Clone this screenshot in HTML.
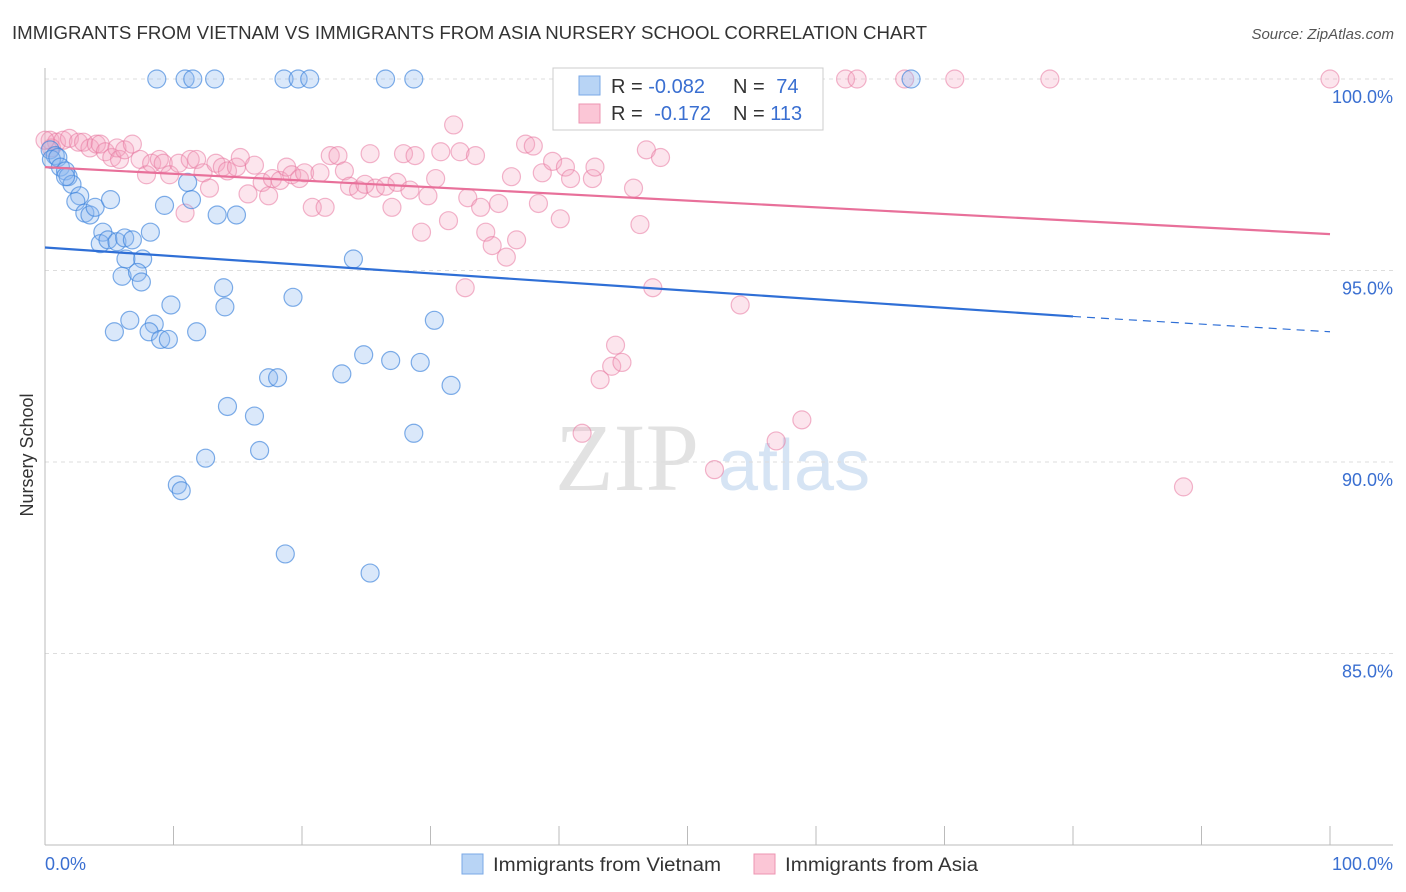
<!DOCTYPE html>
<html><head><meta charset="utf-8"><style>
body{margin:0;background:#fff;font-family:"Liberation Sans",sans-serif;}
svg{display:block}
</style></head><body>
<svg id="c" width="1406" height="892" xmlns="http://www.w3.org/2000/svg">
<text x="12" y="39" font-size="18.5" fill="#333" textLength="915" lengthAdjust="spacingAndGlyphs">IMMIGRANTS FROM VIETNAM VS IMMIGRANTS FROM ASIA NURSERY SCHOOL CORRELATION CHART</text>
<text x="1394" y="39" font-size="15" fill="#555" font-style="italic" text-anchor="end">Source: ZipAtlas.com</text>
<text x="33" y="455" font-size="18" fill="#333" transform="rotate(-90 33 455)" text-anchor="middle">Nursery School</text>
<g><text x="555" y="490" font-family="Liberation Serif,serif" font-size="96" fill="#e2e2e2">ZIP</text><text x="718" y="490" font-size="72" fill="#d6e4f4">atlas</text></g>
<g id="grid"></g><g id="axes"></g><g id="pts"></g><g id="trend"></g>
<g>
<rect x="553" y="68" width="270" height="62" fill="#fff" stroke="#ccc"/>
<rect x="579" y="76" width="21" height="19" fill="#b8d4f5" stroke="#7aa8e6"/>
<rect x="579" y="104" width="21" height="19" fill="#fbc6d6" stroke="#ee94b2"/>
<text x="611" y="93" font-size="20" fill="#333">R = <tspan fill="#3a6fd1">-0.082</tspan></text><text x="733" y="93" font-size="20" fill="#333">N = <tspan dx="6" fill="#3a6fd1">74</tspan></text>
<text x="611" y="120" font-size="20" fill="#333">R = <tspan dx="6" fill="#3a6fd1">-0.172</tspan></text><text x="733" y="120" font-size="20" fill="#333">N = <tspan fill="#3a6fd1">113</tspan></text>
</g>
<g>
<rect x="462" y="854" width="21" height="20" fill="#b8d4f5" stroke="#7aa8e6"/>
<text x="493" y="871" font-size="19" fill="#333" textLength="228" lengthAdjust="spacingAndGlyphs">Immigrants from Vietnam</text>
<rect x="754" y="854" width="21" height="20" fill="#fbc6d6" stroke="#ee94b2"/>
<text x="785" y="871" font-size="19" fill="#333" textLength="193" lengthAdjust="spacingAndGlyphs">Immigrants from Asia</text>
</g>
</svg>
<script>
const yTicks=[100,95,90,85];
const yTickLabels=["100.0%","95.0%","90.0%","85.0%"];
const xTickLabels=["0.0%","100.0%"];
const blueX=[8.7,10.9,11.5,13.2,18.6,19.7,20.6,26.5,28.7,43.0,67.4,0.4,0.8,0.5,1.0,1.2,1.6,1.8,2.1,1.6,2.7,2.4,3.1,3.5,3.9,4.5,4.3,4.9,5.6,6.2,6.8,8.2,5.1,11.1,11.4,9.3,13.4,14.9,6.3,7.6,6.0,7.2,7.5,13.9,19.3,9.8,14.0,6.6,8.5,5.4,8.1,9.0,9.6,11.8,30.3,24.0,24.8,26.9,29.2,23.1,17.4,18.1,31.6,14.2,16.3,28.7,16.7,12.5,10.3,10.6,18.7,25.3];
const blueY=[100,100,100,100,100,100,100,100,100,100,100,98.15,98.0,97.9,97.95,97.7,97.6,97.45,97.25,97.45,96.95,96.8,96.5,96.45,96.65,96.0,95.7,95.8,95.75,95.85,95.8,96.0,96.85,97.3,96.85,96.7,96.45,96.45,95.3,95.3,94.85,94.95,94.7,94.55,94.3,94.1,94.05,93.7,93.6,93.4,93.4,93.2,93.2,93.4,93.7,95.3,92.8,92.65,92.6,92.3,92.2,92.2,92.0,91.45,91.2,90.75,90.3,90.1,89.4,89.25,87.6,87.1];
const pinkX=[0.4,0.9,1.4,1.9,2.6,3.0,3.5,4.0,4.3,4.7,5.2,5.6,5.8,6.2,6.8,7.4,7.9,8.3,8.9,9.2,9.7,10.4,10.9,11.3,11.8,12.3,12.8,13.3,13.8,14.2,14.9,15.2,15.8,16.3,16.9,17.4,17.7,18.3,18.8,19.2,19.8,20.2,20.8,21.4,21.8,22.2,22.8,23.3,23.7,24.4,24.9,25.3,25.7,26.5,27.0,27.4,27.9,28.4,28.8,29.3,29.8,30.4,30.8,31.4,31.8,32.3,32.9,33.5,33.9,34.3,34.8,35.3,35.9,36.3,36.7,37.4,38.0,38.4,38.7,39.5,40.1,40.5,40.9,42.6,42.8,43.2,44.1,44.4,44.9,41.8,45.8,46.3,46.8,47.9,47.3,52.1,54.1,56.9,58.9,88.6,50.2,53.3,55.6,62.3,63.2,66.9,70.8,78.2,100,32.7,0.5,0];
const pinkY=[98.4,98.35,98.4,98.45,98.35,98.35,98.2,98.3,98.3,98.1,97.95,98.2,97.9,98.15,98.3,97.9,97.5,97.8,97.9,97.8,97.5,97.8,96.5,97.9,97.9,97.55,97.15,97.8,97.7,97.6,97.7,97.95,97.0,97.75,97.3,96.95,97.4,97.35,97.7,97.5,97.4,97.55,96.65,97.55,96.65,98.0,98.0,97.6,97.2,97.1,97.25,98.05,97.15,97.2,96.65,97.3,98.05,97.1,98.0,96.0,96.95,97.4,98.1,96.3,98.8,98.1,96.9,98.0,96.65,96.0,95.65,96.75,95.35,97.45,95.8,98.3,98.25,96.75,97.55,97.85,96.35,97.7,97.4,97.4,97.7,92.15,92.5,93.05,92.6,90.75,97.15,96.2,98.15,97.95,94.55,89.8,94.1,90.55,91.1,89.35,100,100,100,100,100,100,100,100,100,94.55,98.2,98.4];
const blueTrend=[[0,95.6],[80,93.8],[100,93.4]];
const pinkTrend=[[0,97.7],[100,95.95]];
const NS="http://www.w3.org/2000/svg";
const X=v=>45+v*12.85, Y=v=>79+(100-v)*38.3;
function mk(p,t,a){const e=document.createElementNS(NS,t);for(const k in a)e.setAttribute(k,a[k]);p.appendChild(e);return e;}
const grid=document.getElementById('grid'),axes=document.getElementById('axes');
yTicks.forEach((t,i)=>{
 const l=mk(grid,'line',{x1:45,x2:1393,y1:Y(t),y2:Y(t),stroke:'#ddd','stroke-dasharray':'4 4'});
 
 
 const tx=mk(axes,'text',{x:1393,y:Y(t)+24,'font-size':18,fill:'#3a6fd1','text-anchor':'end'});tx.textContent=yTickLabels[i];
 
 
});
const ax=mk(axes,'line',{x1:45,x2:45,y1:68,y2:845,stroke:'#bbb'});


const bx=mk(axes,'line',{x1:45,x2:1393,y1:845,y2:845,stroke:'#bbb'});


for(let i=0;i<=10;i++){const t=mk(axes,'line',{x1:X(i*10),x2:X(i*10),y1:826,y2:845,stroke:'#bbb'});
 
 }
[[0,'start',45],[100,'end',1393]].forEach((d,i)=>{const t=mk(axes,'text',{x:d[2],y:870,'font-size':18,fill:'#3a6fd1','text-anchor':d[1]});t.textContent=xTickLabels[i];
 
 });
const pts=document.getElementById('pts');
pinkX.forEach((v,i)=>{const c=mk(pts,'circle',{cx:X(v),cy:Y(pinkY[i]),r:9,fill:'rgba(246,160,190,0.28)',stroke:'rgba(232,120,160,0.55)','stroke-width':1.2});
 
 });
blueX.forEach((v,i)=>{const c=mk(pts,'circle',{cx:X(v),cy:Y(blueY[i]),r:9,fill:'rgba(140,185,240,0.32)',stroke:'rgba(60,130,220,0.65)','stroke-width':1.2});
 
 });
const tr=document.getElementById('trend');
const b1=mk(tr,'line',{x1:X(blueTrend[0][0]),y1:Y(blueTrend[0][1]),x2:X(blueTrend[1][0]),y2:Y(blueTrend[1][1]),stroke:'#2f6fd6','stroke-width':2.2});


const b2=mk(tr,'line',{x1:X(blueTrend[1][0]),y1:Y(blueTrend[1][1]),x2:X(blueTrend[2][0]),y2:Y(blueTrend[2][1]),stroke:'#2f6fd6','stroke-width':1.2,'stroke-dasharray':'8 6'});


const p1=mk(tr,'line',{x1:X(pinkTrend[0][0]),y1:Y(pinkTrend[0][1]),x2:X(pinkTrend[1][0]),y2:Y(pinkTrend[1][1]),stroke:'#e8709a','stroke-width':2.2});


</script>
</body></html>
